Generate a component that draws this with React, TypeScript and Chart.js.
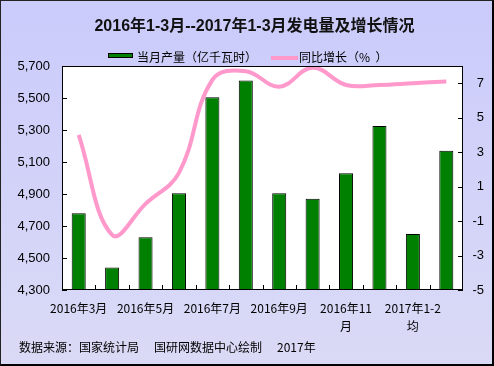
import React, { useEffect, useRef } from "react";
import { Chart, registerables } from "chart.js";

Chart.register(...registerables);

const categories = [
  "2016年3月", "2016年4月", "2016年5月", "2016年6月", "2016年7月", "2016年8月",
  "2016年9月", "2016年10月", "2016年11月", "2016年12月", "2017年1-2均", "2017年3月",
];
const output = [4780, 4440, 4630, 4905, 5505, 5610, 4905, 4870, 5030, 5325, 4650, 5170];
const growth = [4.0, -1.8, 0.0, 1.8, 7.2, 7.7, 6.8, 7.9, 6.9, 6.9, 7.0, 7.1];
const leftTicks = [4300, 4500, 4700, 4900, 5100, 5300, 5500, 5700];
const rightTicks = [-5, -3, -1, 1, 3, 5, 7];
const leftMin = 4300;
const leftMax = 5700;
const rightMin = -5;
const rightMax = 8;

const titleText = "2016年1-3月--2017年1-3月发电量及增长情况";
const barLabel = "当月产量（亿千瓦时）";
const lineLabel = "同比增长（%\u00A0\u00A0）";
const footerParts = ["数据来源：国家统计局", "国研网数据中心绘制", "2017年"];

const CJK = '"Noto Sans CJK SC", "Liberation Sans", sans-serif';
const NUM = '"Liberation Sans", Arial, sans-serif';

const wrapLabel = (s: string) => (s.length > 7 ? [s.slice(0, -1), s.slice(-1)] : s);

const framePlugin = {
  id: "frame",
  beforeDatasetsDraw(chart: any) {
    const { ctx, chartArea: a } = chart;
    ctx.save();
    ctx.fillStyle = "#ffffff";
    ctx.fillRect(a.left, a.top, a.right - a.left, a.bottom - a.top);
    ctx.restore();
  },
  afterDatasetsDraw(chart: any) {
    const { ctx, chartArea: a, scales } = chart;
    ctx.save();
    ctx.strokeStyle = "#000";
    ctx.lineWidth = 1;
    ctx.strokeRect(a.left + 0.5, a.top + 0.5, a.right - a.left - 1, a.bottom - a.top - 1);
    ctx.beginPath();
    for (const t of scales.y.ticks) {
      const py = Math.round(scales.y.getPixelForValue(t.value)) + 0.5;
      ctx.moveTo(a.left, py);
      ctx.lineTo(a.left + 5, py);
    }
    for (const t of scales.y1.ticks) {
      const py = Math.round(scales.y1.getPixelForValue(t.value)) + 0.5;
      ctx.moveTo(a.right - 5, py);
      ctx.lineTo(a.right, py);
    }
    for (let i = 1; i < categories.length; i++) {
      const px =
        Math.round((scales.x.getPixelForValue(i - 1) + scales.x.getPixelForValue(i)) / 2) + 0.5;
      ctx.moveTo(px, a.bottom);
      ctx.lineTo(px, a.bottom - 5);
    }
    ctx.stroke();
    ctx.restore();
  },
};

export default function App() {
  const ref = useRef<HTMLCanvasElement | null>(null);

  useEffect(() => {
    if (!ref.current) return;
    const chart = new Chart(ref.current, {
      type: "bar",
      data: {
        labels: categories,
        datasets: [
          {
            type: "line",
            label: lineLabel,
            data: growth,
            yAxisID: "y1",
            borderColor: "#FF99CC",
            borderWidth: 4,
            pointRadius: 0,
            tension: 0.4,
            fill: false,
            order: 0,
          } as any,
          {
            type: "bar",
            label: barLabel,
            data: output,
            yAxisID: "y",
            backgroundColor: "#008000",
            borderColor: "#000000",
            borderWidth: 1,
            barPercentage: 0.42,
            categoryPercentage: 1,
            order: 1,
          },
        ],
      },
      options: {
        animation: false,
        responsive: false,
        devicePixelRatio: 1,
        layout: { padding: { top: 66, right: 10, bottom: 0, left: 0 } },
        plugins: { legend: { display: false }, tooltip: { enabled: false }, title: { display: false } },
        scales: {
          x: {
            grid: { display: false, drawTicks: false },
            border: { display: false },
            afterFit: (s: any) => {
              s.height = 76;
            },
            ticks: {
              autoSkip: false,
              maxRotation: 0,
              minRotation: 0,
              padding: 9,
              color: "#000",
              font: { family: CJK, size: 12, lineHeight: 1.5 },
              callback: (_v: any, i: number) => (i % 2 === 0 ? wrapLabel(categories[i]) : null),
            },
          },
          y: {
            position: "left",
            min: leftMin,
            max: leftMax,
            grid: { display: false, drawTicks: false },
            border: { display: false },
            afterBuildTicks: (s: any) => {
              s.ticks = leftTicks.map((v) => ({ value: v }));
            },
            afterFit: (s: any) => {
              s.width = 62;
            },
            ticks: {
              padding: 12,
              color: "#000",
              font: { family: NUM, size: 13 },
              callback: (v: any) => Number(v).toLocaleString("en-US"),
            },
          },
          y1: {
            position: "right",
            min: rightMin,
            max: rightMax,
            grid: { display: false, drawTicks: false },
            border: { display: false },
            afterBuildTicks: (s: any) => {
              s.ticks = rightTicks.map((v) => ({ value: v }));
            },
            afterFit: (s: any) => {
              s.width = 21;
            },
            ticks: {
              padding: 0,
              crossAlign: "far",
              color: "#000",
              font: { family: NUM, size: 13 },
            },
          },
        },
      },
      plugins: [framePlugin],
    });
    return () => chart.destroy();
  }, []);

  const textStyle: React.CSSProperties = {
    position: "absolute",
    fontFamily: CJK,
    fontSize: 12,
    lineHeight: "14px",
    color: "#000",
    whiteSpace: "nowrap",
  };

  return (
    <div
      style={{
        position: "absolute",
        left: 0,
        top: 0,
        width: 494,
        height: 366,
        boxSizing: "border-box",
        borderTop: "1px solid #222",
        borderLeft: "1px solid #222",
        borderRight: "2px solid #000",
        borderBottom: "2px solid #000",
        background: "linear-gradient(to bottom, #CBCBFC, #DADAF6)",
        overflow: "hidden",
      }}
    >
      <canvas
        ref={ref}
        width={494}
        height={366}
        style={{ position: "absolute", left: -1, top: -1, width: 494, height: 366 }}
      />
      <div
        style={{
          position: "absolute",
          left: 13,
          top: 15,
          width: 481,
          textAlign: "center",
          fontFamily: NUM.replace("sans-serif", "") + CJK,
          fontWeight: "bold",
          fontSize: 16,
          lineHeight: "20px",
          color: "#111",
          whiteSpace: "nowrap",
        }}
      >
        {titleText}
      </div>
      <div
        style={{
          position: "absolute",
          left: 107,
          top: 52,
          width: 25,
          height: 5,
          boxSizing: "border-box",
          border: "1px solid #000",
          background: "#008000",
        }}
      />
      <div style={{ ...textStyle, left: 136, top: 49 }}>{barLabel}</div>
      <div
        style={{
          position: "absolute",
          left: 270,
          top: 55,
          width: 27,
          height: 4,
          background: "#FF99CC",
        }}
      />
      <div style={{ ...textStyle, left: 298, top: 49 }}>{lineLabel}</div>
      <div style={{ ...textStyle, left: 18, top: 339 }}>{footerParts[0]}</div>
      <div style={{ ...textStyle, left: 153, top: 339 }}>{footerParts[1]}</div>
      <div style={{ ...textStyle, left: 276, top: 339 }}>{footerParts[2]}</div>
    </div>
  );
}
